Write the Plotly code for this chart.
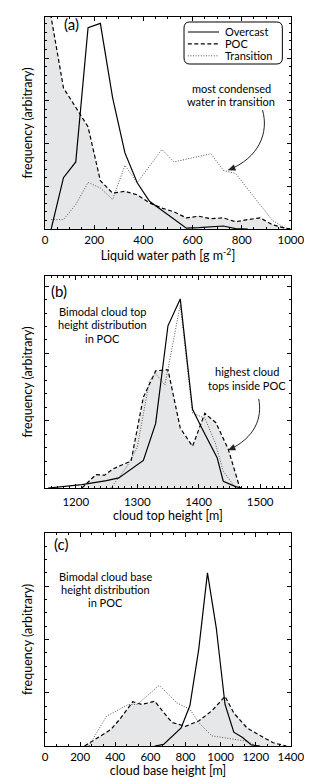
import math
import plotly.graph_objects as go

# ---------------- data ----------------
# (a) liquid water path
lwp_x_overcast = [25, 75, 125, 175, 225, 275, 325, 375, 425, 575, 625, 675, 725, 775, 825]
lwp_overcast = [0.0, 1.2, 1.57, 4.71, 4.81, 3.07, 1.78, 1.08, 0.65, 0.02, 0.03, 0.05, 0.07, 0.01, 0.0]
lwp_x_poc = [0, 25, 75, 125, 175, 225, 275, 325, 375, 425, 475, 525, 575, 625, 675, 725, 775, 825, 875, 925, 975, 1000]
lwp_poc = [7.0, 4.95, 3.30, 2.84, 2.39, 1.13, 0.84, 0.88, 0.80, 0.61, 0.49, 0.40, 0.26, 0.30, 0.24, 0.26, 0.17, 0.22, 0.26, 0.10, 0.02, 0.0]
lwp_x_trans = [25, 75, 125, 175, 225, 275, 325, 375, 475, 525, 675, 725, 775, 875, 925, 975]
lwp_trans = [0.22, 0.22, 0.57, 1.09, 0.96, 0.69, 1.49, 1.08, 1.86, 1.57, 1.76, 1.37, 1.30, 0.55, 0.20, 0.03]

# (b) cloud top height
cth_x_overcast = [1155, 1175, 1210, 1250, 1270, 1310, 1330, 1350, 1370, 1390, 1405, 1430, 1440, 1460, 1470]
cth_overcast = [0.0, 0.02, 0.05, 0.11, 0.15, 0.41, 0.96, 2.41, 2.81, 1.17, 0.89, 0.45, 0.10, 0.02, 0.0]
cth_x_poc = [1210, 1222, 1233, 1247, 1260, 1272, 1290, 1310, 1330, 1350, 1370, 1390, 1410, 1428, 1448, 1467]
cth_poc = [0.0, 0.10, 0.20, 0.19, 0.28, 0.33, 0.40, 1.35, 1.74, 1.76, 0.89, 0.62, 1.11, 0.97, 0.58, 0.0]
cth_x_trans = [1257, 1282, 1300, 1320, 1330, 1345, 1370, 1390, 1410, 1427, 1440, 1460]
cth_trans = [0.0, 0.30, 0.60, 1.60, 1.70, 1.53, 2.72, 1.11, 1.04, 0.67, 0.25, 0.0]

# (c) cloud base height
cbh_x_overcast = [625, 675, 775, 825, 875, 925, 975, 1025, 1075, 1125, 1175, 1225]
cbh_overcast = [0.0, 0.03, 0.34, 0.76, 1.81, 3.25, 2.22, 0.78, 0.26, 0.16, 0.02, 0.0]
cbh_x_poc = [225, 375, 425, 500, 550, 625, 700, 725, 800, 875, 950, 1025, 1075, 1150, 1250, 1300, 1375]
cbh_poc = [0.0, 0.31, 0.50, 0.83, 0.78, 0.84, 0.53, 0.44, 0.37, 0.47, 0.66, 0.93, 0.62, 0.34, 0.15, 0.06, 0.0]
cbh_x_trans = [250, 350, 475, 525, 650, 750, 825, 875, 950, 1150, 1200]
cbh_trans = [0.0, 0.56, 0.78, 0.78, 1.14, 0.81, 0.69, 0.44, 0.19, 0.09, 0.0]

series_names = ["Overcast", "POC", "Transition"]

# ---------------- layout helpers ----------------
W, H = 312, 778
FONT = "Lato, 'Open Sans', sans-serif"
GRAY_FILL = "rgb(230,231,232)"


def px(x):
    return x / W


def py(y):
    return 1 - y / H


fig = go.Figure()

panels = [
    ("", lwp_x_overcast, lwp_overcast, lwp_x_poc, lwp_poc, lwp_x_trans, lwp_trans),
    ("2", cth_x_overcast, cth_overcast, cth_x_poc, cth_poc, cth_x_trans, cth_trans),
    ("3", cbh_x_overcast, cbh_overcast, cbh_x_poc, cbh_poc, cbh_x_trans, cbh_trans),
]

for sfx, xo, yo, xp, yp, xt, yt in panels:
    xa, ya = "x" + sfx, "y" + sfx
    fig.add_trace(go.Scatter(x=xp, y=yp, mode="lines", name=series_names[1], fill="tozeroy",
                             fillcolor=GRAY_FILL, line=dict(color="black", width=1.2, dash="4px,2.5px"),
                             xaxis=xa, yaxis=ya, showlegend=False))
    fig.add_trace(go.Scatter(x=xt, y=yt, mode="lines", name=series_names[2],
                             line=dict(color="#555555", width=1, dash="1px,1.6px"),
                             xaxis=xa, yaxis=ya, showlegend=False))
    fig.add_trace(go.Scatter(x=xo, y=yo, mode="lines", name=series_names[0],
                             line=dict(color="black", width=1.2),
                             xaxis=xa, yaxis=ya, showlegend=False))

axis_common = dict(showline=True, linecolor="black", linewidth=1, mirror="ticks",
                   ticks="inside", ticklen=4, tickwidth=1, tickcolor="black",
                   showgrid=False, zeroline=False,
                   tickfont=dict(family=FONT, size=11.5, color="black"))

x_dom = [px(36), px(296)]
ydoms = [[py(221), py(9)], [py(480), py(268)], [py(738), py(525)]]
xranges = [[0, 1000], [1150, 1550], [0, 1400]]
xdticks = [200, 100, 200]
xminor = [50, 10, 200 / 3]
yranges = [[0, 4.96], [0, 3.15], [0, 4.0]]
yminor = [0.2, 0.2, 0.25]
label_standoff = [0, 3, 0]
xtitles = ["Liquid water path [g m<sup>-2</sup>]", "cloud top height [m]", "cloud base height [m]"]

for i, sfx in enumerate(["", "2", "3"]):
    fig.update_layout(**{
        "xaxis" + sfx: dict(axis_common, domain=x_dom, range=xranges[i], dtick=xdticks[i], tick0=0,
                            anchor="y" + sfx, ticklabelstandoff=label_standoff[i],
                            minor=dict(ticks="inside", ticklen=2, tickcolor="black", dtick=xminor[i], tick0=0,
                                       showgrid=False),
                            title=dict(text=xtitles[i], font=dict(family=FONT, size=12.5, color="black"),
                                       standoff=2)),
        "yaxis" + sfx: dict(axis_common, domain=ydoms[i], range=yranges[i], dtick=1, tick0=0,
                            anchor="x" + sfx, showticklabels=False,
                            minor=dict(ticks="inside", ticklen=2, tickcolor="black", dtick=yminor[i], tick0=0,
                                       showgrid=False),
                            title=dict(text="frequency (arbitrary)", font=dict(family=FONT, size=12.5, color="black"),
                                       standoff=8)),
    })

annotations = []
shapes = []


def text(x, y, s, size=11, anchor="center"):
    annotations.append(dict(x=px(x), y=py(y), xref="paper", yref="paper", text=s, showarrow=False,
                            xanchor=anchor, yanchor="middle", align="center",
                            font=dict(family=FONT, size=size, color="black")))


# panel labels
text(54, 16, "(a)", 15, "left")
text(40, 283, "(b)", 15, "left")
text(43, 536, "(c)", 15, "left")

# panel (a) note
text(233, 81, "most condensed", 11)
text(233, 94, "water in transition", 11)
# panel (b) notes
text(97, 303, "Bimodal cloud top", 11)
text(97, 316, "height distribution", 11)
text(97, 330, "in POC", 11)
text(250, 364, "highest cloud", 11)
text(250, 377, "tops inside POC", 11)
# panel (c) note
text(100, 568, "Bimodal cloud base", 11)
text(100, 581, "height distribution", 11)
text(100, 594, "in POC", 11)


def curve(p0, c1, c2, p1):
    path = "M {:.5f},{:.5f} C {:.5f},{:.5f} {:.5f},{:.5f} {:.5f},{:.5f}".format(
        px(p0[0]), py(p0[1]), px(c1[0]), py(c1[1]), px(c2[0]), py(c2[1]), px(p1[0]), py(p1[1]))
    shapes.append(dict(type="path", path=path, xref="paper", yref="paper",
                       line=dict(color="#222222", width=1)))
    # arrowhead as a small filled triangle
    dx, dy = p1[0] - c2[0], p1[1] - c2[1]
    n = math.hypot(dx, dy)
    ux, uy = dx / n, dy / n
    L, Wd = 7.0, 3.0
    bx, by = p1[0] - ux * L, p1[1] - uy * L
    q1 = (bx - uy * Wd, by + ux * Wd)
    q2 = (bx + uy * Wd, by - ux * Wd)
    tri = "M {:.5f},{:.5f} L {:.5f},{:.5f} L {:.5f},{:.5f} Z".format(
        px(p1[0]), py(p1[1]), px(q1[0]), py(q1[1]), px(q2[0]), py(q2[1]))
    shapes.append(dict(type="path", path=tri, xref="paper", yref="paper",
                       line=dict(color="#222222", width=0.5), fillcolor="#222222"))


curve((266, 102), (273, 125), (262, 150), (230, 162))
curve((262, 391), (266, 410), (258, 430), (230, 442))

# legend box (rounded rectangle)
x0, y0, x1, y1, r = 183, 14, 287, 56, 6
lp = "M {a},{b} L {c},{b} Q {d},{b} {d},{e} L {d},{f} Q {d},{g} {c},{g} L {a},{g} Q {h},{g} {h},{f} L {h},{e} Q {h},{b} {a},{b} Z".format(
    a=px(x0 + r), b=py(y0), c=px(x1 - r), d=px(x1), e=py(y0 + r), f=py(y1 - r), g=py(y1), h=px(x0))
shapes.append(dict(type="path", path=lp, xref="paper", yref="paper", line=dict(color="black", width=1),
                   fillcolor="white"))
leg_styles = [dict(color="black", width=1.2), dict(color="black", width=1.2, dash="4px,2.5px"),
              dict(color="#555555", width=1, dash="1px,1.6px")]
for k, (nm, st) in enumerate(zip(series_names, leg_styles)):
    yy = 24.0 + k * 11.9
    shapes.append(dict(type="line", xref="paper", yref="paper", x0=px(187), x1=px(220), y0=py(yy), y1=py(yy),
                       line=st))
    text(224, yy, nm, 11, "left")

fig.update_layout(width=W, height=H, margin=dict(l=0, r=0, t=0, b=0), paper_bgcolor="white",
                  plot_bgcolor="white", showlegend=False, annotations=annotations, shapes=shapes,
                  font=dict(family=FONT, color="black"))

fig.write_html("out.html")
